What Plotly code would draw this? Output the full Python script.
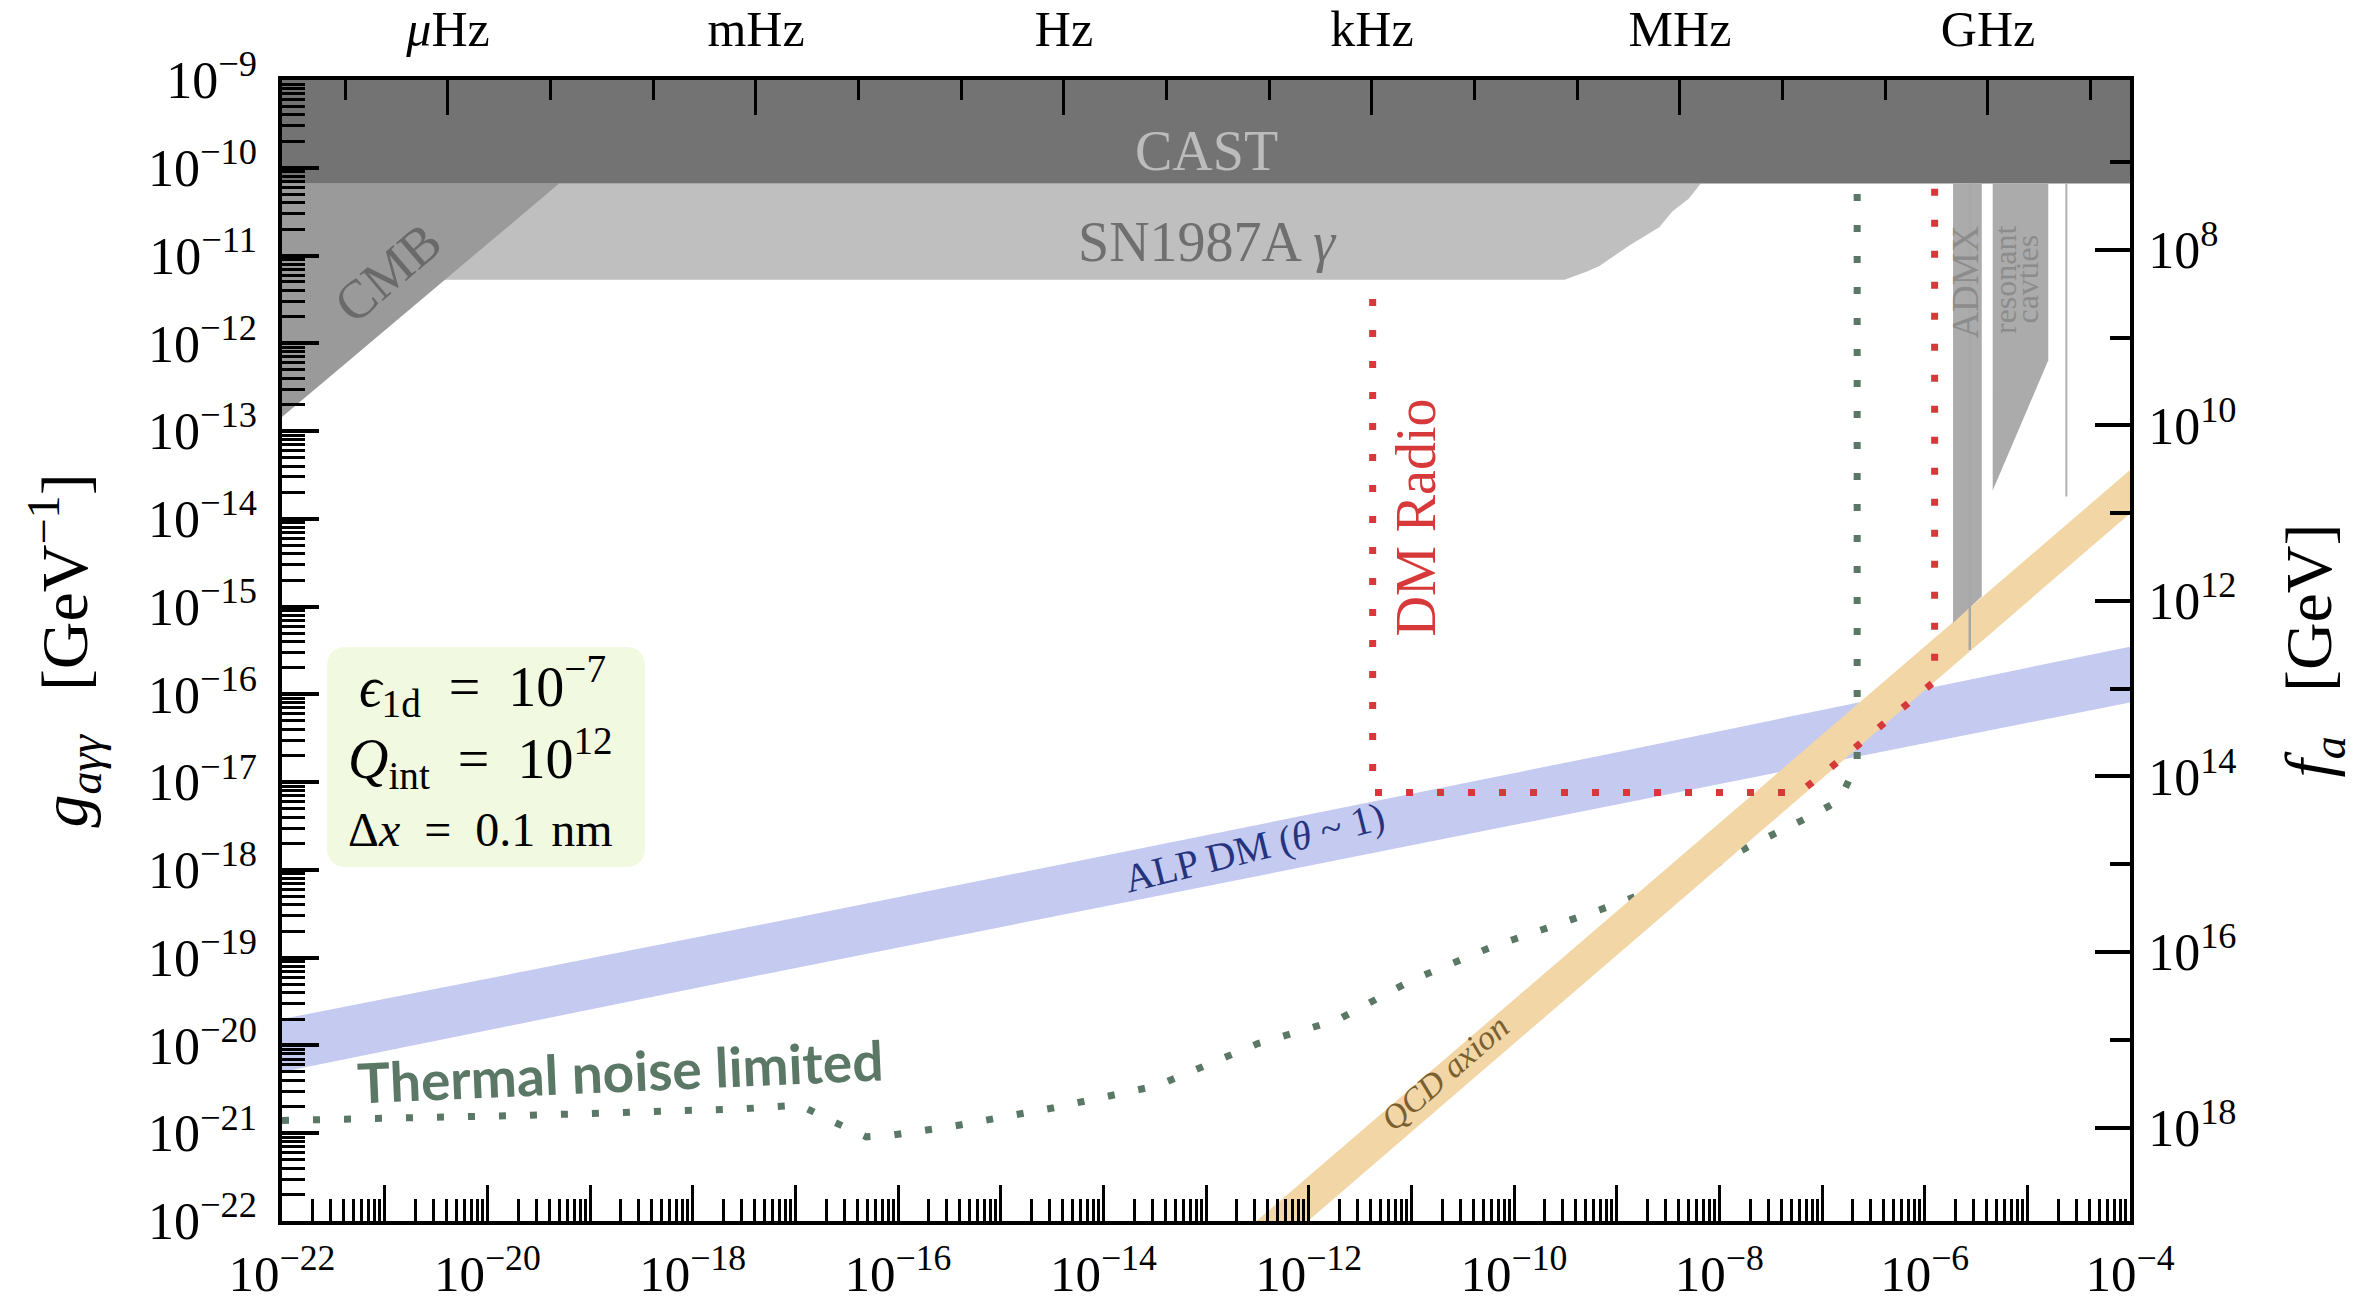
import numpy as np
import plotly.graph_objects as go

# ---------------- data ----------------
# axion mass axis [eV] and coupling axis [GeV^-1]
m_min, m_max = 1e-22, 1e-4
g_min, g_max = 1e-22, 1e-9

# CAST limit (flat)
cast_mass = [1e-22, 1e-4]
cast_g = [6.6e-11, 6.6e-11]

# SN1987A gamma-ray limit (lower boundary)
sn_mass = [1e-22, 3.1e-10, 5.0e-10, 6.8e-10, 1.35e-9, 2.6e-9, 3.5e-9, 5.0e-9, 6.6e-9]
sn_g = [5.3e-12, 5.3e-12, 6.5e-12, 7.6e-12, 1.32e-11, 2.1e-11, 3.2e-11, 4.4e-11, 6.6e-11]

# CMB limit (lower boundary)
cmb_mass = [1e-22, 5.0e-20]
cmb_g = [1.45e-13, 6.6e-11]

# ADMX
admx_mass = [1.89e-6, 3.6e-6]
admx_g_low = [6.5e-16, 1.3e-15]
admx_line_mass = [2.75e-6, 2.75e-6]
admx_line_g = [6.6e-11, 3.2e-16]

# resonant cavities
cav_mass = [4.6e-6, 1.6e-5]
cav_g_low = [2.1e-14, 6.4e-13]
cav_line_mass = [2.4e-5, 2.4e-5]
cav_line_g = [6.6e-11, 1.8e-14]

# ALP DM band (theta ~ 1)
alp_mass = [1e-22, 1.1e-17, 6.9e-10, 1e-4]
alp_g_upper = [2.0e-20, 2.9e-19, 2.0e-17, 3.5e-16]
alp_g_lower = [5.0e-21, 7.8e-20, 5.1e-18, 8.1e-17]

# QCD axion band
qcd_mass = [1e-13, 1e-4]
qcd_g_upper = [3.2e-23, 3.6e-14]
qcd_g_lower = [1.0e-23, 1.15e-14]

# Thermal noise limited sensitivity
thermal_mass = [1e-22, 2.6e-20, 3.2e-18, 1.1e-17, 2.2e-17, 4.9e-17, 8.7e-17, 3.4e-16, 3.3e-15,
                3.4e-14, 3.2e-13, 1.9e-12, 1.0e-11, 5.8e-11, 6.8e-10, 6.5e-9, 2.2e-8, 8.1e-8,
                1.5e-7, 2.2e-7, 2.2e-7]
thermal_g = [1.4e-21, 1.6e-21, 1.9e-21, 2.1e-21, 1.4e-21, 9.1e-22, 9.5e-22, 1.2e-21, 1.95e-21,
             3.5e-21, 1.05e-20, 1.95e-20, 5.5e-20, 1.3e-19, 3.5e-19, 9.3e-19, 2.0e-18, 4.2e-18,
             6.3e-18, 1.7e-17, 6.6e-11]

# DM Radio sensitivity
dmr_mass = [4.2e-12, 4.2e-12, 6.0e-8, 1.07e-7, 1.74e-7, 2.95e-7, 4.9e-7, 8.5e-7, 1.25e-6, 1.25e-6]
dmr_g = [3.2e-12, 7.6e-18, 7.6e-18, 1.29e-17, 2.05e-17, 3.47e-17, 5.6e-17, 9.5e-17, 1.41e-16, 6.6e-11]

# frequency axis (top)
freq_major = [1e-6, 1e-3, 1.0, 1e3, 1e6, 1e9]
freq_major_labels = ["<i>μ</i>Hz", "mHz", "Hz", "kHz", "MHz", "GHz"]
h_eVs = 4.135667e-15  # Planck constant [eV s]

# f_a axis (right)
fa_major = [1e8, 1e10, 1e12, 1e14, 1e16, 1e18]
fa_minor = [1e7, 1e9, 1e11, 1e13, 1e15, 1e17]
alpha_em = 1 / 137.036

# ---------------- styling ----------------
SERIF = "Liberation Serif"
GREEN = "#5a7865"
RED = "#d7393b"
W, H = 2375, 1303
ML, MR, MT, MB = 282, 245, 80, 82
SP = "\u2004"   # 1/3 em space
EN = "\u2002"   # 1/2 em space

def sup_label(v):
    e = int(round(np.log10(v)))
    s = str(e).replace("-", "−")
    return f"10<sup>{s}</sup>"

def minor_vals(lo, hi):
    out = []
    for e in range(lo, hi):
        for k in range(2, 10):
            out.append(k * 10.0 ** e)
    return out

fig = go.Figure()

def poly(x, y, color, name):
    fig.add_trace(go.Scatter(x=x, y=y, fill="toself", fillcolor=color, mode="lines",
                             line=dict(width=0, color=color), hoverinfo="skip", name=name))

# ALP DM band
poly(alp_mass + alp_mass[::-1], alp_g_upper + alp_g_lower[::-1], "#c5cbf0", "ALP DM")

# Thermal noise line
fig.add_trace(go.Scatter(x=thermal_mass, y=thermal_g, mode="lines",
                         line=dict(color=GREEN, width=7, dash="7px,24px"), name="thermal"))

# QCD axion band
poly(qcd_mass + qcd_mass[::-1], qcd_g_upper + qcd_g_lower[::-1], "#f2d6a6", "QCD axion")

# SN1987A
poly(sn_mass + [sn_mass[0]], sn_g + [cast_g[0]], "#bfbfbf", "SN1987A")
# CMB
poly(cmb_mass + [cmb_mass[0]], cmb_g + [cmb_g[-1]], "#9a9a9a", "CMB")
# CAST
poly(cast_mass + cast_mass[::-1], cast_g + [g_max, g_max], "#737373", "CAST")
# ADMX
poly(admx_mass + admx_mass[::-1], [cast_g[0], cast_g[0]] + admx_g_low[::-1], "#ababab", "ADMX")
fig.add_trace(go.Scatter(x=admx_line_mass, y=admx_line_g, mode="lines",
                         line=dict(color="#a8a8a8", width=2.5), hoverinfo="skip"))
# resonant cavities
poly(cav_mass + cav_mass[::-1], [cast_g[0], cast_g[0]] + cav_g_low[::-1], "#ababab", "cavities")
fig.add_trace(go.Scatter(x=cav_line_mass, y=cav_line_g, mode="lines",
                         line=dict(color="#b0b0b0", width=2), hoverinfo="skip"))

# DM Radio
fig.add_trace(go.Scatter(x=dmr_mass, y=dmr_g, mode="lines",
                         line=dict(color=RED, width=7, dash="7px,24px"), name="DM Radio"))

# helper (invisible) trace for the top / right axes
fa_range = [np.log10(alpha_em / (2 * np.pi) / g_min), np.log10(alpha_em / (2 * np.pi) / g_max)]
fig.add_trace(go.Scatter(x=[m_min, m_max], y=[10 ** fa_range[0], 10 ** fa_range[1]],
                         xaxis="x2", yaxis="y2", mode="markers", marker=dict(opacity=0),
                         hoverinfo="skip", showlegend=False))

# ---------------- axes ----------------
dec_x = [10.0 ** e for e in range(-22, -3)]
dec_y = [10.0 ** e for e in range(-22, -8)]
tickfont = dict(family=SERIF, size=52, color="black")
titlefont = dict(family=SERIF, size=66, color="black")

fig.update_layout(
    width=W, height=H, showlegend=False,
    paper_bgcolor="white", plot_bgcolor="white",
    margin=dict(l=ML, r=MR, t=MT, b=MB, autoexpand=False),
    xaxis=dict(type="log", range=[np.log10(m_min), np.log10(m_max)], showgrid=False, zeroline=False,
               showline=True, linecolor="black", linewidth=3.5,
               ticks="inside", ticklen=36, tickwidth=3, tickcolor="black",
               tickmode="array", tickvals=dec_x,
               ticktext=[sup_label(v) if (int(round(np.log10(v))) % 2 == 0) else "" for v in dec_x],
               tickfont=dict(family=SERIF, size=51, color="black"), ticklabelstandoff=5,
               minor=dict(ticks="inside", ticklen=22, tickwidth=2.5, tickcolor="black",
                          tickmode="array", tickvals=minor_vals(-22, -4), showgrid=False)),
    xaxis2=dict(type="log", range=[np.log10(m_min), np.log10(m_max)], overlaying="x", side="top",
                anchor="y2", showgrid=False, zeroline=False,
                showline=True, linecolor="black", linewidth=3.5,
                ticks="inside", ticklen=35, tickwidth=3, tickcolor="black",
                tickmode="array", tickvals=[h_eVs * f for f in freq_major], ticktext=freq_major_labels,
                tickfont=dict(family=SERIF, size=50, color="black"), ticklabelstandoff=10,
                minor=dict(ticks="inside", ticklen=20, tickwidth=3, tickcolor="black",
                           tickmode="array",
                           tickvals=[h_eVs * 10.0 ** e for e in range(-7, 11) if 10.0 ** e not in freq_major],
                           showgrid=False)),
    yaxis=dict(type="log", range=[np.log10(g_min), np.log10(g_max)], showgrid=False, zeroline=False,
               showline=True, linecolor="black", linewidth=3.5,
               ticks="inside", ticklen=37, tickwidth=4, tickcolor="black",
               tickmode="array", tickvals=dec_y, ticktext=[sup_label(v) for v in dec_y],
               tickfont=tickfont, ticklabelstandoff=11,
               title=dict(text=f"<i>g</i><sub><i>aγγ</i></sub>{SP}{SP}[GeV<sup>−1</sup>]",
                          font=titlefont, standoff=40),
               minor=dict(ticks="inside", ticklen=23, tickwidth=3, tickcolor="black",
                          tickmode="array", tickvals=minor_vals(-22, -9), showgrid=False)),
    yaxis2=dict(type="log", range=fa_range, overlaying="y", side="right", anchor="x2",
                showgrid=False, zeroline=False,
                showline=True, linecolor="black", linewidth=3.5,
                ticks="inside", ticklen=35, tickwidth=4, tickcolor="black",
                tickmode="array", tickvals=fa_major, ticktext=[sup_label(v) for v in fa_major],
                tickfont=tickfont, ticklabelstandoff=4,
                title=dict(text=f"<i>f<sub>a</sub></i>{SP}{SP}[GeV]", font=titlefont, standoff=50),
                minor=dict(ticks="inside", ticklen=20, tickwidth=4, tickcolor="black",
                           tickmode="array", tickvals=fa_minor, showgrid=False)),
)

# ---------------- labels ----------------
def lab(text, mx, gy, size, color, angle=0, family=SERIF, weight="normal"):
    fig.add_annotation(x=np.log10(mx), y=np.log10(gy), xref="x", yref="y", text=text,
                       showarrow=False, textangle=angle,
                       font=dict(family=family, size=size, color=color, weight=weight),
                       xanchor="center", yanchor="middle")

lab("CAST", 1e-13, 10 ** -9.81, 56, "#bcbcbc")
lab("SN1987A <i>γ</i>", 10 ** -12.99, 10 ** -10.85, 56, "#6f6f6f")
lab("CMB", 10 ** -20.97, 10 ** -11.2, 54, "#6a6a6a", angle=-40.5)
lab("DM Radio", 10 ** -10.95, 10 ** -13.98, 56, RED, angle=-90)
lab("ADMX", 10 ** -5.60, 10 ** -11.30, 37, "#8c8c8c", angle=-90)
lab("resonant", 10 ** -5.22, 10 ** -11.27, 32, "#8c8c8c", angle=-90)
lab("cavties", 10 ** -5.00, 10 ** -11.27, 32, "#8c8c8c", angle=-90)
lab("ALP DM (<i>θ</i> ~ 1)", 10 ** -12.53, 10 ** -17.74, 40, "#26337f", angle=-14)
lab("<i>QCD axion</i>", 10 ** -10.67, 10 ** -20.31, 34, "#7a6030", angle=-41)
lab("Thermal noise limited", 10 ** -18.71, 10 ** -20.29, 55, GREEN, angle=-2.5, family="Lato", weight="bold")

# parameter box (paper coordinates)
def px2paper(xp, yp):
    return (xp - ML) / (W - ML - MR), 1 - (yp - MT) / (H - MT - MB)

bx0, by1 = px2paper(327, 647)
bx1, by0 = px2paper(645, 867)
rx, ry = 20 / (W - ML - MR), 20 / (H - MT - MB)
path = (f"M {bx0+rx},{by0} L {bx1-rx},{by0} Q {bx1},{by0} {bx1},{by0+ry} "
        f"L {bx1},{by1-ry} Q {bx1},{by1} {bx1-rx},{by1} L {bx0+rx},{by1} "
        f"Q {bx0},{by1} {bx0},{by1-ry} L {bx0},{by0+ry} Q {bx0},{by0} {bx0+rx},{by0} Z")
fig.add_shape(type="path", path=path, xref="paper", yref="paper",
              fillcolor="#f2f9e1", line=dict(width=0), layer="above")

EQ = f"{EN}={EN}"
for txt, xp, yp, sz in [(f"<i>ϵ</i><sub>1d</sub>{EQ}10<sup>−7</sup>", 357, 686, 56),
                        (f"<i>Q</i><sub>int</sub>{EQ}10<sup>12</sup>", 346, 758, 56),
                        (f"Δ<i>x</i>{EQ}0.1{SP}nm", 346, 829, 48)]:
    ax, ay = px2paper(xp, yp)
    fig.add_annotation(x=ax, y=ay, xref="paper", yref="paper", text=txt, showarrow=False,
                       xanchor="left", yanchor="middle",
                       font=dict(family=SERIF, size=sz, color="black"))

fig.write_html("out.html", post_script="document.body.style.margin='0';",
               config={"displayModeBar": False})
